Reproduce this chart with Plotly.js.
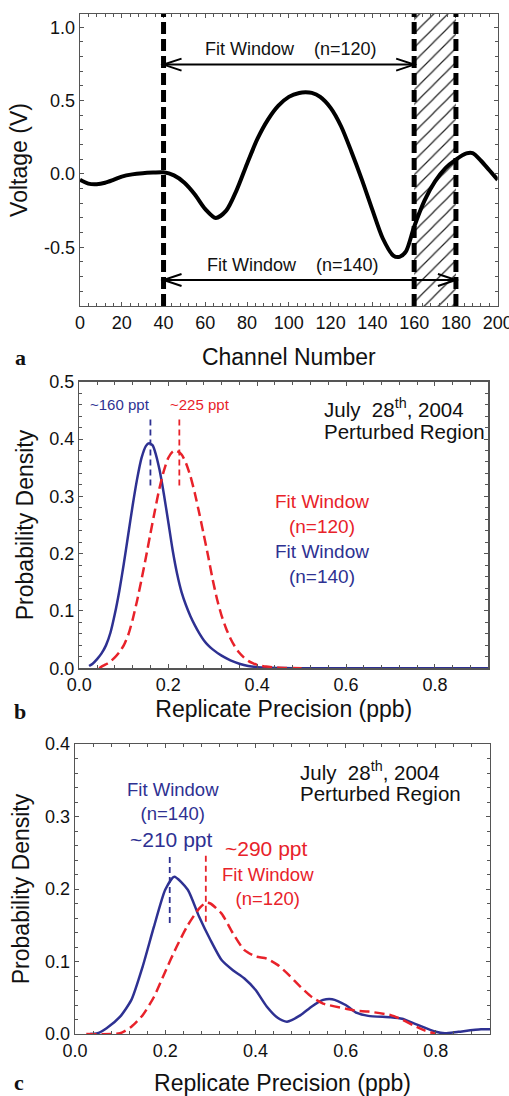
<!DOCTYPE html>
<html>
<head>
<meta charset="utf-8">
<script src="https://cdn.plot.ly/plotly-3.0.1.min.js"></script>
<style>
  html, body { margin: 0; padding: 0; background: #fff; }
  #chart { width: 509px; height: 1096px; }
</style>
</head>
<body>
<div id="chart"></div>
<script>
// ---- (a) digitised waveform ----
const channel = [0, 4, 8, 12, 16, 20, 25, 30, 35, 40, 45, 50, 55, 60, 65, 70, 75, 80, 85, 90, 95,
  100, 105, 108, 111, 115, 120, 125, 130, 135, 140, 145, 150, 153, 156, 160, 165, 170, 175, 180,
  185, 188, 192, 196, 200];
const voltage = [-0.04, -0.066, -0.07, -0.06, -0.04, -0.018, -0.003, 0.005, 0.009, 0.011, -0.01,
  -0.06, -0.14, -0.24, -0.30, -0.25, -0.11, 0.07, 0.24, 0.37, 0.465, 0.525, 0.552, 0.556, 0.552,
  0.525, 0.45, 0.325, 0.15, -0.04, -0.245, -0.44, -0.556, -0.565, -0.53, -0.36, -0.18, -0.05,
  0.04, 0.098, 0.14, 0.142, 0.09, 0.025, -0.04];

// fit window limits (channel numbers)
const windowStart = 40;
const windowEnd120 = 160;
const windowEnd140 = 180;
const windowLabels = ['Fit Window    (n=120)', 'Fit Window    (n=140)'];

const chanTicks = [0, 20, 40, 60, 80, 100, 120, 140, 160, 180, 200];
const chanTickText = ['0', '20', '40', '60', '80', '100', '120', '140', '160', '180', '200'];
const voltTicks = [-0.5, 0, 0.5, 1.0];
const voltTickText = ['-0.5', '0.0', '0.5', '1.0'];

// ---- (b) replicate precision densities ----
const precB140 = [0.022, 0.03, 0.04, 0.05, 0.06, 0.07, 0.08, 0.09, 0.10, 0.11, 0.12, 0.13, 0.14,
  0.15, 0.157, 0.165, 0.17, 0.18, 0.19, 0.20, 0.21, 0.22, 0.23, 0.24, 0.25, 0.26, 0.27, 0.28,
  0.29, 0.30, 0.32, 0.34, 0.36, 0.38, 0.40, 0.43, 0.46, 0.50, 0.60, 0.70, 0.80, 0.92];
const densB140 = [0.004, 0.008, 0.016, 0.026, 0.040, 0.062, 0.095, 0.135, 0.182, 0.233, 0.284,
  0.330, 0.367, 0.388, 0.3925, 0.389, 0.379, 0.348, 0.305, 0.256, 0.206, 0.165, 0.133, 0.110,
  0.091, 0.075, 0.061, 0.049, 0.040, 0.033, 0.022, 0.014, 0.008, 0.004, 0.002, 0.001, 0.0005,
  0, 0, 0, 0, 0];
const precB120 = [0.045, 0.05, 0.06, 0.07, 0.08, 0.09, 0.10, 0.11, 0.12, 0.13, 0.14, 0.15, 0.16,
  0.17, 0.18, 0.19, 0.20, 0.21, 0.215, 0.22, 0.23, 0.24, 0.25, 0.26, 0.27, 0.28, 0.29, 0.30,
  0.31, 0.32, 0.33, 0.34, 0.35, 0.36, 0.37, 0.38, 0.39, 0.40, 0.42, 0.45, 0.50];
const densB120 = [0, 0.003, 0.007, 0.012, 0.019, 0.028, 0.040, 0.058, 0.085, 0.118, 0.155, 0.194,
  0.235, 0.275, 0.313, 0.344, 0.367, 0.378, 0.38, 0.379, 0.373, 0.358, 0.335, 0.305, 0.270,
  0.233, 0.195, 0.155, 0.120, 0.092, 0.070, 0.052, 0.038, 0.027, 0.019, 0.013, 0.009, 0.006,
  0.003, 0.001, 0];
const peakB = [0.160, 0.225];          // n=140, n=120 (ppb)

// ---- (c) replicate precision densities ----
const precC140 = [0.033, 0.05, 0.07, 0.1, 0.125, 0.15, 0.175, 0.2, 0.22, 0.25, 0.275, 0.3, 0.325,
  0.35, 0.375, 0.4, 0.425, 0.45, 0.47, 0.5, 0.525, 0.55, 0.57, 0.6, 0.625, 0.65, 0.7, 0.725,
  0.75, 0.8, 0.82, 0.85, 0.9, 0.92];
const densC140 = [0, 0.001, 0.008, 0.024, 0.047, 0.093, 0.148, 0.199, 0.217, 0.199, 0.162, 0.13,
  0.102, 0.088, 0.077, 0.061, 0.038, 0.022, 0.017, 0.026, 0.038, 0.047, 0.048, 0.04, 0.029,
  0.025, 0.023, 0.021, 0.015, 0.003, 0.001, 0.003, 0.0064, 0.0064];
const precC120 = [0.025, 0.1, 0.125, 0.15, 0.175, 0.2, 0.225, 0.25, 0.275, 0.29, 0.3, 0.325, 0.35,
  0.375, 0.4, 0.425, 0.45, 0.475, 0.5, 0.525, 0.55, 0.6, 0.625, 0.65, 0.7, 0.725, 0.75, 0.775, 0.8];
const densC120 = [0, 0.001, 0.01, 0.026, 0.051, 0.086, 0.12, 0.15, 0.173, 0.181, 0.18, 0.166,
  0.139, 0.116, 0.107, 0.104, 0.095, 0.081, 0.065, 0.051, 0.042, 0.035, 0.032, 0.031, 0.026,
  0.02, 0.012, 0.005, 0];
const peakC = [0.210, 0.290];          // n=140, n=120 (ppb)

const precTicks = [0, 0.2, 0.4, 0.6, 0.8];
const precTickText = ['0.0', '0.2', '0.4', '0.6', '0.8'];
const densTicksB = [0, 0.1, 0.2, 0.3, 0.4, 0.5];
const densTickTextB = ['0.0', '0.1', '0.2', '0.3', '0.4', '0.5'];
const densTicksC = [0, 0.1, 0.2, 0.3, 0.4];
const densTickTextC = ['0.0', '0.1', '0.2', '0.3', '0.4'];

// ---- styling ----
const FONT = 'Liberation Sans, Arial, Helvetica, sans-serif';
const SERIF = 'Liberation Serif, Times New Roman, serif';
const BLUE = '#2E3192';
const RED = '#E8222A';
const FRAME = '#555555';

const voltRange = [-0.9, 1.09];
const chanRange = [0, 200];
const precRange = [0, 0.92];

const ppt = v => '~' + Math.round(v * 1000) + ' ppt';

function axis(domain, anchor, range, vals, text, minor, title, standoff) {
  return {
    domain, anchor, range, tickmode: 'array', tickvals: vals, ticktext: text,
    ticks: 'inside', ticklen: 4, tickwidth: 1, tickcolor: FRAME,
    minor: { dtick: minor, ticks: 'inside', ticklen: 3, tickwidth: 1, tickcolor: FRAME },
    showline: true, linecolor: FRAME, linewidth: 1.3, mirror: 'ticks',
    showgrid: false, zeroline: false, fixedrange: true,
    ticklabeloverflow: 'allow',
    tickfont: { family: FONT, size: 18, color: '#111' },
    title: { text: title, font: { family: FONT, size: 23, color: '#111' }, standoff }
  };
}

const traces = [
  // hatched extension of the fit window
  {
    type: 'bar', xaxis: 'x', yaxis: 'y',
    x: [(windowEnd120 + windowEnd140) / 2], width: [windowEnd140 - windowEnd120],
    base: [voltRange[0]], y: [voltRange[1] - voltRange[0]],
    marker: {
      color: 'rgba(0,0,0,0)', line: { width: 0 },
      pattern: { shape: '/', fgcolor: '#222', bgcolor: 'rgba(0,0,0,0)', size: 10, solidity: 0.12 }
    },
    hoverinfo: 'skip'
  },
  {
    type: 'scatter', mode: 'lines', xaxis: 'x', yaxis: 'y',
    x: channel, y: voltage,
    line: { color: '#000', width: 4, shape: 'spline', smoothing: 0.8 }
  },
  // panel b
  {
    type: 'scatter', mode: 'lines', xaxis: 'x2', yaxis: 'y2',
    x: precB140, y: densB140, line: { color: BLUE, width: 2.5, shape: 'spline', smoothing: 0.6 }
  },
  {
    type: 'scatter', mode: 'lines', xaxis: 'x2', yaxis: 'y2',
    x: precB120, y: densB120,
    line: { color: RED, width: 2.5, dash: '10px,5px', shape: 'spline', smoothing: 0.6 }
  },
  {
    type: 'scatter', mode: 'lines', xaxis: 'x2', yaxis: 'y2',
    x: [peakB[0], peakB[0]], y: [0.319, 0.436], line: { color: BLUE, width: 1.8, dash: '6px,4px' }
  },
  {
    type: 'scatter', mode: 'lines', xaxis: 'x2', yaxis: 'y2',
    x: [peakB[1], peakB[1]], y: [0.319, 0.436], line: { color: RED, width: 1.8, dash: '6px,4px' }
  },
  // panel c
  {
    type: 'scatter', mode: 'lines', xaxis: 'x3', yaxis: 'y3',
    x: precC140, y: densC140, line: { color: BLUE, width: 2.5, shape: 'spline', smoothing: 0.6 }
  },
  {
    type: 'scatter', mode: 'lines', xaxis: 'x3', yaxis: 'y3',
    x: precC120, y: densC120,
    line: { color: RED, width: 2.5, dash: '10px,5px', shape: 'spline', smoothing: 0.6 }
  },
  {
    type: 'scatter', mode: 'lines', xaxis: 'x3', yaxis: 'y3',
    x: [peakC[0], peakC[0]], y: [0.153, 0.247], line: { color: BLUE, width: 1.8, dash: '6px,4px' }
  },
  {
    type: 'scatter', mode: 'lines', xaxis: 'x3', yaxis: 'y3',
    x: [peakC[1], peakC[1]], y: [0.155, 0.25], line: { color: RED, width: 1.8, dash: '6px,4px' }
  }
];

// window boundaries and arrows for panel a
const shapes = [windowStart, windowEnd120, windowEnd140].map(x => ({
  type: 'line', xref: 'x', yref: 'y domain', x0: x, x1: x, y0: 0, y1: 1,
  line: { color: '#000', width: 5, dash: '12px,5px' }
}));
const arrowY = [0.745, -0.723];
const arrowEnd = [windowEnd120, windowEnd140];
arrowY.forEach((y, i) => {
  shapes.push({ type: 'line', xref: 'x', yref: 'y', x0: windowStart, x1: arrowEnd[i], y0: y, y1: y,
    line: { color: '#000', width: 2 } });
  shapes.push({ type: 'path', xref: 'x', yref: 'y', xsizemode: 'pixel', ysizemode: 'pixel',
    xanchor: windowStart, yanchor: y, path: 'M 18 -6 L 0 0 L 18 6', line: { color: '#000', width: 2 } });
  shapes.push({ type: 'path', xref: 'x', yref: 'y', xsizemode: 'pixel', ysizemode: 'pixel',
    xanchor: arrowEnd[i], yanchor: y, path: 'M -18 -6 L 0 0 L -18 6', line: { color: '#000', width: 2 } });
});

const txt = (text, x, y, xref, yref, size, color, extra) => Object.assign({
  text, x, y, xref, yref, showarrow: false, xanchor: 'center', yanchor: 'middle',
  font: { family: FONT, size, color }
}, extra || {});

const letter = (text, px, py) => ({
  text: '<b>' + text + '</b>', x: px / 509, y: 1 - py / 1096, xref: 'paper', yref: 'paper',
  xanchor: 'center', yanchor: 'middle', showarrow: false,
  font: { family: SERIF, size: 22, color: '#111' }
});

const annotations = [
  txt(windowLabels[0], 101, 0.85, 'x', 'y', 18, '#111'),
  txt(windowLabels[1], 102, -0.62, 'x', 'y', 18, '#111'),
  // panel b
  txt(ppt(peakB[0]), 0.0915, 0.461, 'x2', 'y2', 15, BLUE),
  txt(ppt(peakB[1]), 0.271, 0.461, 'x2', 'y2', 15, RED),
  txt('July  28<sup>th</sup>, 2004', 0.593, 0.909, 'x2 domain', 'y2 domain', 20.5, '#111', { xanchor: 'left' }),
  txt('Perturbed Region', 0.593, 0.8255, 'x2 domain', 'y2 domain', 20.5, '#111', { xanchor: 'left' }),
  txt('Fit Window<br>(n=120)', 0.545, 0.2694, 'x2', 'y2', 19, RED),
  txt('Fit Window<br>(n=140)', 0.545, 0.1811, 'x2', 'y2', 19, BLUE),
  // panel c
  txt('July  28<sup>th</sup>, 2004', 0.538, 0.908, 'x3 domain', 'y3 domain', 20.5, '#111', { xanchor: 'left' }),
  txt('Perturbed Region', 0.538, 0.8276, 'x3 domain', 'y3 domain', 20.5, '#111', { xanchor: 'left' }),
  txt('Fit Window<br>(n=140)', 0.217, 0.3205, 'x3', 'y3', 18.5, BLUE),
  txt(ppt(peakC[0]), 0.212, 0.2685, 'x3', 'y3', 21, BLUE),
  txt(ppt(peakC[1]), 0.4245, 0.2555, 'x3', 'y3', 21, RED),
  txt('Fit Window<br>(n=120)', 0.427, 0.2035, 'x3', 'y3', 18.5, RED),
  // panel letters
  letter('a', 20, 357.5),
  letter('b', 20, 711),
  letter('c', 19, 1082)
];

const layout = {
  width: 509, height: 1096,
  margin: { l: 0, r: 0, t: 0, b: 0 },
  paper_bgcolor: '#fff', plot_bgcolor: '#fff',
  showlegend: false,
  font: { family: FONT, color: '#111' },
  xaxis: axis([80 / 509, 497.7 / 509], 'y', chanRange, chanTicks, chanTickText, 4, 'Channel Number', 17),
  yaxis: axis([1 - 306 / 1096, 1 - 14 / 1096], 'x', voltRange, voltTicks, voltTickText, 0.1, 'Voltage (V)', 10),
  xaxis2: axis([79.3 / 509, 488.3 / 509], 'y2', precRange, precTicks, precTickText, 0.04, 'Replicate Precision (ppb)', 6),
  yaxis2: axis([1 - 668.3 / 1096, 1 - 381.7 / 1096], 'x2', [0, 0.5], densTicksB, densTickTextB, 0.02, 'Probability Density', 9),
  xaxis3: axis([75 / 509, 490 / 509], 'y3', precRange, precTicks, precTickText, 0.04, 'Replicate Precision (ppb)', 19),
  yaxis3: axis([1 - 1034 / 1096, 1 - 744 / 1096], 'x3', [0, 0.4], densTicksC, densTickTextC, 0.02, 'Probability Density', 9),
  shapes, annotations
};

Plotly.newPlot('chart', traces, layout, { staticPlot: true, displayModeBar: false });
</script>
</body>
</html>
